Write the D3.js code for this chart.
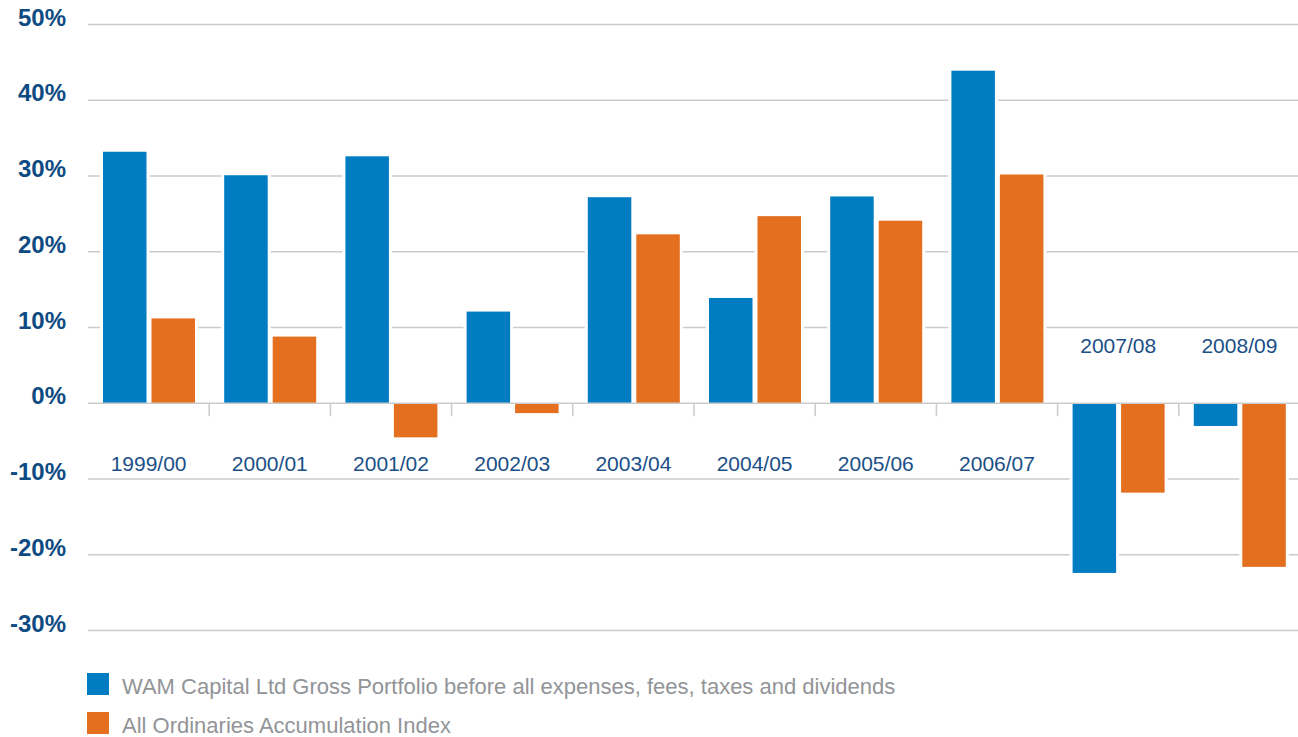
<!DOCTYPE html>
<html>
<head>
<meta charset="utf-8">
<script src="https://cdn.jsdelivr.net/npm/d3@7"></script>
<style>
  body { margin: 0; background: #fff; }
  svg { display: block; }
</style>
</head>
<body>
<div id="chart"></div>
<script>
// data
const years = ["1999/00", "2000/01", "2001/02", "2002/03", "2003/04", "2004/05", "2005/06", "2006/07", "2007/08", "2008/09"];
const wamValues = [33.2, 30.1, 32.6, 12.1, 27.2, 13.9, 27.3, 43.9, -22.4, -3.0];
const aoaiValues = [11.2, 8.8, -4.5, -1.3, 22.3, 24.7, 24.1, 30.2, -11.8, -21.6];
const seriesNames = ["WAM Capital Ltd Gross Portfolio before all expenses, fees, taxes and dividends", "All Ordinaries Accumulation Index"];
const yTicks = [50, 40, 30, 20, 10, 0, -10, -20, -30];

const colors = ["#007cc3", "#e36f1f"];
const W = 1298, H = 737;

const rows = years.map((y, i) => ({ year: y, vals: [wamValues[i], aoaiValues[i]] }));

const svg = d3.select("#chart").append("svg")
  .attr("width", W)
  .attr("height", H);

const x = d3.scaleBand()
  .domain(years)
  .range([88, 1300])
  .paddingInner(0);

const x1 = d3.scaleBand()
  .domain([0, 1])
  .range([15, 107])
  .paddingInner(0.103);

const y = d3.scaleLinear()
  .domain([-30, 50])
  .range([630.5, 24.5]);

// gridlines
svg.append("g")
  .selectAll("line")
  .data(yTicks.filter(d => d !== 0))
  .enter()
  .append("line")
  .attr("x1", 88)
  .attr("x2", W)
  .attr("y1", d => y(d))
  .attr("y2", d => y(d))
  .attr("stroke", "#cbcbcb")
  .attr("stroke-width", 1.5);

// y labels
svg.append("g")
  .selectAll("text")
  .data(yTicks)
  .enter()
  .append("text")
  .attr("x", 66)
  .attr("y", d => y(d) + 1)
  .attr("text-anchor", "end")
  .attr("font-family", "Liberation Sans, Arial, sans-serif")
  .attr("font-weight", "bold")
  .attr("font-size", "24px")
  .attr("fill", "#0e4b82")
  .text(d => d + "%");

// bars
const group = svg.append("g")
  .selectAll("g")
  .data(rows)
  .enter()
  .append("g")
  .attr("transform", d => `translate(${x(d.year)},0)`);

const bars = group.selectAll("rect")
  .data(d => d.vals.map((v, i) => ({ v, i })))
  .enter();

// white halo so gridlines break around bars
bars.append("rect")
  .attr("x", d => x1(d.i) - 3)
  .attr("width", x1.bandwidth() + 6)
  .attr("y", d => Math.min(y(d.v), y(0)) - 3)
  .attr("height", d => Math.abs(y(d.v) - y(0)) + 6)
  .attr("fill", "#fff");

bars.append("rect")
  .attr("x", d => x1(d.i))
  .attr("width", x1.bandwidth())
  .attr("y", d => Math.min(y(d.v), y(0)))
  .attr("height", d => Math.abs(y(d.v) - y(0)))
  .attr("fill", d => colors[d.i]);

// zero line and tick marks between categories
svg.append("line")
  .attr("x1", 88)
  .attr("x2", W)
  .attr("y1", y(0))
  .attr("y2", y(0))
  .attr("stroke", "#cbcbcb")
  .attr("stroke-width", 1.5);

svg.append("g")
  .selectAll("line")
  .data(years.slice(1))
  .enter()
  .append("line")
  .attr("x1", d => x(d))
  .attr("x2", d => x(d))
  .attr("y1", y(0))
  .attr("y2", y(0) + 13)
  .attr("stroke", "#cbcbcb")
  .attr("stroke-width", 1.5);

// category labels
svg.append("g")
  .selectAll("text")
  .data(rows)
  .enter()
  .append("text")
  .attr("x", d => x(d.year) + x.bandwidth() / 2)
  .attr("y", d => d.vals[0] < 0 && d.vals[1] < 0 ? y(0) - 50 : y(0) + 68)
  .attr("text-anchor", "middle")
  .attr("font-family", "Liberation Sans, Arial, sans-serif")
  .attr("font-size", "21px")
  .attr("fill", "#1a4f87")
  .text(d => d.year);

// legend
const legend = svg.append("g")
  .selectAll("g")
  .data(seriesNames)
  .enter()
  .append("g")
  .attr("transform", (d, i) => `translate(87,${673 + i * 39})`);

legend.append("rect")
  .attr("width", 22)
  .attr("height", 22)
  .attr("fill", (d, i) => colors[i]);

legend.append("text")
  .attr("x", 35)
  .attr("y", 21)
  .attr("font-family", "Liberation Sans, Arial, sans-serif")
  .attr("font-size", "22px")
  .attr("fill", "#929497")
  .text(d => d);
</script>
</body>
</html>
